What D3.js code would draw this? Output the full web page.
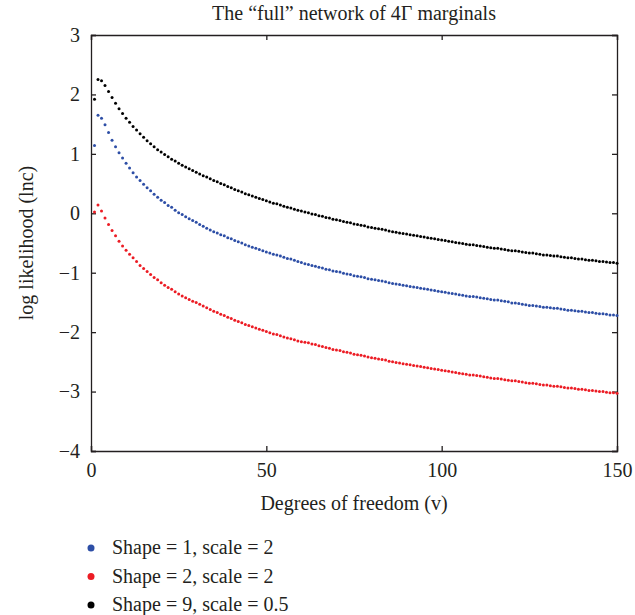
<!DOCTYPE html>
<html>
<head>
<meta charset="utf-8">
<script src="https://cdn.jsdelivr.net/npm/d3@7"></script>
<style>
  body { margin: 0; background: #fff; }
  text { font-family: "Palatino Linotype", Palatino, "Liberation Serif", serif; fill: #231f20; }
</style>
</head>
<body>
<script>
// degrees of freedom, 1..150
var grados = d3.range(1, 151);

var serieNegra = [
  1.92, 2.25, 2.23, 2.15, 2.05, 1.95, 1.85, 1.76, 1.68, 1.60,
  1.53, 1.46, 1.40, 1.34, 1.28, 1.22, 1.17, 1.12, 1.07, 1.03,
  0.99, 0.95, 0.91, 0.88, 0.84, 0.81, 0.78, 0.75, 0.72, 0.69,
  0.66, 0.63, 0.61, 0.58, 0.55, 0.53, 0.50, 0.48, 0.45, 0.43,
  0.40, 0.38, 0.36, 0.33, 0.31, 0.29, 0.27, 0.25, 0.23, 0.21,
  0.19, 0.17, 0.16, 0.14, 0.12, 0.10, 0.09, 0.07, 0.05, 0.04,
  0.02, 0.01, -0.01, -0.02, -0.04, -0.05, -0.07, -0.08, -0.10, -0.11,
  -0.12, -0.14, -0.15, -0.16, -0.18, -0.19, -0.20, -0.21, -0.23, -0.24,
  -0.25, -0.26, -0.27, -0.28, -0.30, -0.31, -0.32, -0.33, -0.34, -0.35,
  -0.36, -0.37, -0.38, -0.39, -0.40, -0.41, -0.42, -0.43, -0.44, -0.45,
  -0.46, -0.47, -0.48, -0.49, -0.50, -0.51, -0.52, -0.53, -0.53, -0.54,
  -0.55, -0.56, -0.57, -0.58, -0.59, -0.59, -0.60, -0.61, -0.62, -0.63,
  -0.63, -0.64, -0.65, -0.66, -0.67, -0.67, -0.68, -0.69, -0.70, -0.70,
  -0.71, -0.72, -0.72, -0.73, -0.74, -0.75, -0.75, -0.76, -0.77, -0.77,
  -0.78, -0.79, -0.79, -0.80, -0.81, -0.81, -0.82, -0.83, -0.83, -0.84
];

var serieAzul = [
  1.14, 1.65, 1.60, 1.49, 1.36, 1.23, 1.12, 1.02, 0.93, 0.84,
  0.76, 0.68, 0.61, 0.55, 0.49, 0.43, 0.38, 0.32, 0.27, 0.22,
  0.18, 0.13, 0.10, 0.05, 0.01, -0.02, -0.06, -0.09, -0.12, -0.15,
  -0.19, -0.22, -0.25, -0.28, -0.31, -0.33, -0.36, -0.38, -0.41, -0.43,
  -0.46, -0.48, -0.50, -0.53, -0.55, -0.57, -0.59, -0.61, -0.63, -0.65,
  -0.67, -0.69, -0.70, -0.72, -0.74, -0.76, -0.77, -0.79, -0.81, -0.83,
  -0.85, -0.86, -0.88, -0.89, -0.91, -0.92, -0.94, -0.95, -0.97, -0.98,
  -0.99, -1.01, -1.02, -1.03, -1.05, -1.06, -1.07, -1.08, -1.10, -1.11,
  -1.12, -1.13, -1.14, -1.15, -1.17, -1.18, -1.19, -1.20, -1.21, -1.22,
  -1.23, -1.24, -1.25, -1.26, -1.27, -1.28, -1.29, -1.30, -1.31, -1.32,
  -1.33, -1.34, -1.35, -1.36, -1.37, -1.38, -1.39, -1.40, -1.40, -1.41,
  -1.42, -1.43, -1.44, -1.45, -1.46, -1.46, -1.47, -1.48, -1.49, -1.51,
  -1.51, -1.52, -1.53, -1.54, -1.55, -1.55, -1.56, -1.57, -1.58, -1.58,
  -1.59, -1.60, -1.60, -1.61, -1.62, -1.63, -1.63, -1.64, -1.65, -1.65,
  -1.66, -1.67, -1.67, -1.68, -1.69, -1.69, -1.70, -1.71, -1.71, -1.72
];

var serieRoja = [
  0.02, 0.14, 0.04, -0.08, -0.19, -0.29, -0.38, -0.47, -0.55, -0.62,
  -0.69, -0.75, -0.81, -0.88, -0.93, -0.98, -1.03, -1.08, -1.12, -1.17,
  -1.21, -1.25, -1.28, -1.32, -1.36, -1.39, -1.42, -1.45, -1.48, -1.50,
  -1.53, -1.56, -1.59, -1.62, -1.65, -1.67, -1.70, -1.72, -1.75, -1.77,
  -1.80, -1.82, -1.84, -1.87, -1.89, -1.91, -1.93, -1.95, -1.97, -1.99,
  -2.01, -2.03, -2.04, -2.06, -2.08, -2.10, -2.11, -2.13, -2.15, -2.16,
  -2.17, -2.18, -2.20, -2.21, -2.23, -2.24, -2.26, -2.27, -2.29, -2.30,
  -2.31, -2.33, -2.34, -2.35, -2.37, -2.38, -2.39, -2.40, -2.42, -2.43,
  -2.44, -2.45, -2.46, -2.47, -2.49, -2.50, -2.51, -2.52, -2.53, -2.54,
  -2.55, -2.56, -2.57, -2.58, -2.59, -2.60, -2.61, -2.62, -2.63, -2.64,
  -2.65, -2.66, -2.67, -2.68, -2.69, -2.70, -2.71, -2.72, -2.72, -2.73,
  -2.74, -2.75, -2.76, -2.77, -2.78, -2.78, -2.79, -2.80, -2.81, -2.82,
  -2.82, -2.83, -2.84, -2.85, -2.86, -2.86, -2.87, -2.88, -2.89, -2.89,
  -2.90, -2.91, -2.91, -2.92, -2.93, -2.94, -2.94, -2.95, -2.96, -2.96,
  -2.97, -2.98, -2.98, -2.99, -3.00, -3.00, -3.01, -3.02, -3.02, -3.03
];

var etiquetas = ["Shape = 1, scale = 2", "Shape = 2, scale = 2", "Shape = 9, scale = 0.5"];
var colores = ["#2d4ea6", "#ec1c24", "#000000"];
var series = [serieAzul, serieRoja, serieNegra];

var ticksX = [0, 50, 100, 150];
var ticksY = [-4, -3, -2, -1, 0, 1, 2, 3];

var ancho = 635;
var altura = 615;
var margen = { superior: 35, derecho: 18, inferior: 164, izquierdo: 91 };
var anchoPlot = ancho - margen.izquierdo - margen.derecho;
var alturaPlot = altura - margen.superior - margen.inferior;

var svg = d3.select("body")
  .append("svg")
  .attr("width", ancho)
  .attr("height", altura);

var g = svg.append("g")
  .attr("transform", "translate(" + margen.izquierdo + "," + margen.superior + ")");

var escalaX = d3.scaleLinear().domain([0, 150]).range([0, anchoPlot]);
var escalaY = d3.scaleLinear().domain([-4, 3]).range([alturaPlot, 0]);

// axes: ticks point inward on all four sides
var tam = 5;
g.append("g")
  .attr("transform", "translate(0," + alturaPlot + ")")
  .call(d3.axisBottom(escalaX).tickValues(ticksX).tickSize(-tam).tickPadding(tam + 7).tickFormat(d3.format("d")));

g.append("g")
  .call(d3.axisTop(escalaX).tickValues(ticksX).tickSize(-tam).tickFormat(""));

g.append("g")
  .call(d3.axisLeft(escalaY).tickValues(ticksY).tickSize(-tam).tickPadding(tam + 6).tickFormat(d3.format("d")));

g.append("g")
  .attr("transform", "translate(" + anchoPlot + ",0)")
  .call(d3.axisRight(escalaY).tickValues(ticksY).tickSize(-tam).tickFormat(""));

g.selectAll(".domain").attr("stroke", "#231f20").attr("stroke-width", 1.3);
g.selectAll(".tick line").attr("stroke", "#231f20").attr("stroke-width", 1.3);
g.selectAll(".tick text")
  .attr("fill", "#231f20")
  .style("font-family", "'Liberation Serif', serif")
  .style("font-size", "20px");

// points
series.forEach(function (datos, i) {
  g.append("g")
    .selectAll("circle")
    .data(datos)
    .enter()
    .append("circle")
    .attr("cx", function (d, j) { return escalaX(grados[j]); })
    .attr("cy", function (d) { return escalaY(d); })
    .attr("r", 1.5)
    .attr("fill", colores[i]);
});

// title and labels
svg.append("text")
  .attr("x", margen.izquierdo + anchoPlot / 2)
  .attr("y", 20)
  .attr("text-anchor", "middle")
  .style("font-size", "20px")
  .text("The \u201cfull\u201d network of 4\u0393 marginals");

svg.append("text")
  .attr("x", margen.izquierdo + anchoPlot / 2)
  .attr("y", 510)
  .attr("text-anchor", "middle")
  .style("font-size", "20px")
  .text("Degrees of freedom (v)");

svg.append("text")
  .attr("transform", "translate(33," + (margen.superior + alturaPlot / 2) + ") rotate(-90)")
  .attr("text-anchor", "middle")
  .style("font-size", "20px")
  .text("log likelihood (lnc)");

// legend
var leyenda = svg.append("g").attr("transform", "translate(91,548)");
etiquetas.forEach(function (t, i) {
  leyenda.append("circle")
    .attr("cx", 0)
    .attr("cy", i * 28.5)
    .attr("r", 3.5)
    .attr("fill", colores[i]);
  leyenda.append("text")
    .attr("x", 21)
    .attr("y", i * 28.5 + 6)
    .style("font-size", "20px")
    .text(t);
});
</script>
</body>
</html>
